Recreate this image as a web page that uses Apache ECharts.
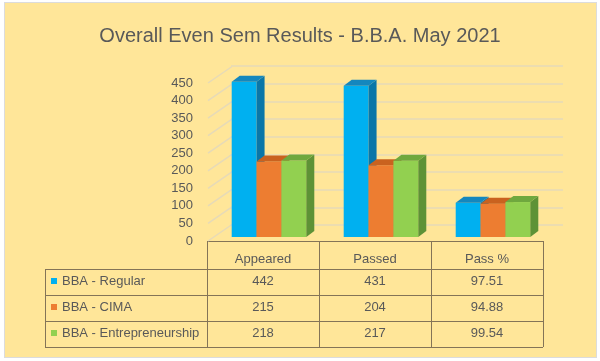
<!DOCTYPE html>
<html><head><meta charset="utf-8">
<script src="https://cdn.jsdelivr.net/npm/echarts@6/dist/echarts.min.js"></script>
<style>
html,body{margin:0;padding:0;background:#fff;}
#wrap{position:relative;width:600px;height:361px;}
#bg{position:absolute;left:4px;top:2px;width:591px;height:354px;background:#FFE699;border:1px solid #dcdcdc;}
#c{position:absolute;left:0;top:0;width:600px;height:361px;}
</style>
</head><body>
<div id="wrap"><div id="bg"></div><div id="c"></div></div>
<script>
const categories = ['Appeared', 'Passed', 'Pass %'];
const seriesNames = ['BBA - Regular', 'BBA - CIMA', 'BBA - Entrepreneurship'];
const regular = [442, 431, 97.51];
const cima = [215, 204, 94.88];
const entrepreneurship = [218, 217, 99.54];
const yTicks = [0, 50, 100, 150, 200, 250, 300, 350, 400, 450];

const allValues = [regular, cima, entrepreneurship];
const faceColors = [
  {front: '#00B0F0', side: '#0A76A8', top: '#1487BE'},
  {front: '#ED7D31', side: '#B65A1F', top: '#C9621F'},
  {front: '#92D050', side: '#5E9236', top: '#6FA83E'}
];
const textColor = '#595959';
const lineColor = '#847457';
const SHIFT_X = 6, SHIFT_Y = -4, DEPTH_X = 8, DEPTH_Y = -6;

const chart = echarts.init(document.getElementById('c'), null, {renderer: 'canvas'});

function barRender(si) {
  return function (params, api) {
    const c = api.value(0), v = api.value(1);
    const topP = api.coord([c, v]);
    const baseP = api.coord([c, 0]);
    const band = api.size([1, 0])[0];
    const w = band * 0.222;
    const x = topP[0] - 1.5 * w + si * w + SHIFT_X;
    const yT = topP[1] + SHIFT_Y;
    const yB = baseP[1] + SHIFT_Y;
    const col = faceColors[si];
    return {
      type: 'group',
      children: [
        {type: 'rect', shape: {x: x, y: yT, width: w, height: yB - yT}, style: {fill: col.front}},
        {type: 'polygon', shape: {points: [[x + w, yT], [x + w + DEPTH_X, yT + DEPTH_Y], [x + w + DEPTH_X, yB + DEPTH_Y], [x + w, yB]]}, style: {fill: col.side}},
        {type: 'polygon', shape: {points: [[x, yT], [x + DEPTH_X, yT + DEPTH_Y], [x + w + DEPTH_X, yT + DEPTH_Y], [x + w, yT]]}, style: {fill: col.top}}
      ]
    };
  };
}

function diagRender(params, api) {
  const v = api.value(1);
  const p = api.coord([0, v]);
  const band = api.size([1, 0])[0];
  const x0 = p[0] - band / 2 + 1;
  return {
    type: 'line',
    shape: {x1: x0, y1: p[1], x2: x0 + 24, y2: p[1] - 16.5},
    style: {stroke: '#E6DAB8', lineWidth: 1.5}
  };
}

const series = [{
  type: 'custom',
  xAxisIndex: 0, yAxisIndex: 0,
  renderItem: diagRender,
  data: yTicks.map(v => [0, v]),
  z: 1, silent: true
}];
allValues.forEach((vals, si) => {
  series.push({
    type: 'custom',
    name: seriesNames[si],
    xAxisIndex: 0, yAxisIndex: 0,
    renderItem: barRender(si),
    data: vals.map((v, i) => [i, v]),
    z: 3 + si, silent: true
  });
});

chart.setOption({
  backgroundColor: 'transparent',
  animation: false,
  title: {
    text: 'Overall Even Sem Results - B.B.A. May 2021',
    left: 'center', top: 21,
    textStyle: {fontFamily: 'Liberation Sans', fontSize: 20, fontWeight: 'normal', color: textColor}
  },
  grid: [
    {left: 207, right: 57, top: 83, bottom: 120},
    {left: 231, right: 37, top: 66, bottom: 136}
  ],
  xAxis: [
    {type: 'category', gridIndex: 0, data: categories, axisLine: {show: false}, axisTick: {show: false}, axisLabel: {show: false}},
    {type: 'category', gridIndex: 1, data: categories, show: false}
  ],
  yAxis: [
    {type: 'value', gridIndex: 0, min: 0, max: 450, interval: 50, splitLine: {show: false},
     axisLine: {show: false}, axisTick: {show: false},
     axisLabel: {margin: 14, color: textColor, fontSize: 13, fontFamily: 'Liberation Sans'}},
    {type: 'value', gridIndex: 1, min: 0, max: 450, interval: 50,
     axisLine: {show: false}, axisTick: {show: false}, axisLabel: {show: false},
     splitLine: {show: true, lineStyle: {color: '#E6DAB8', width: 1.5}}}
  ],
  series: series
});

// data table built from the same arrays, aligned to the category bands
const centers = categories.map((c, i) => chart.convertToPixel({xAxisIndex: 0}, i));
const band = centers.length > 1 ? centers[1] - centers[0] : 112;
const edges = centers.map(c => c - band / 2).concat([centers[centers.length - 1] + band / 2]);
const legendLeft = 45;
const headerTop = 241, headerH = 28, rowH = 26;
const rowTops = seriesNames.map((n, i) => headerTop + headerH + i * rowH);
const tableBottom = headerTop + headerH + seriesNames.length * rowH;
const els = [];
const ls = {stroke: lineColor, lineWidth: 1};
const L = (x1, y1, x2, y2) => els.push({type: 'line', shape: {x1, y1, x2, y2}, style: ls, silent: true});
L(edges[0], headerTop + 0.5, edges[edges.length - 1], headerTop + 0.5);
rowTops.forEach(y => L(legendLeft, y + 0.5, edges[edges.length - 1], y + 0.5));
L(legendLeft, tableBottom + 0.5, edges[edges.length - 1], tableBottom + 0.5);
L(legendLeft + 0.5, rowTops[0], legendLeft + 0.5, tableBottom);
edges.forEach(x => L(Math.round(x) + 0.5, headerTop, Math.round(x) + 0.5, tableBottom));
const ts = (extra) => Object.assign({fill: textColor, fontSize: 13, fontFamily: 'Liberation Sans', verticalAlign: 'middle'}, extra);
categories.forEach((c, i) => els.push({type: 'text', x: centers[i], y: headerTop + headerH / 2 + 4, style: ts({text: c, align: 'center'}), silent: true}));
seriesNames.forEach((n, si) => {
  const yc = rowTops[si] + rowH / 2 - 1;
  els.push({type: 'rect', shape: {x: legendLeft + 6, y: yc - 3, width: 6, height: 6}, style: {fill: faceColors[si].front}, silent: true});
  els.push({type: 'text', x: legendLeft + 17, y: yc, style: ts({text: n, align: 'left'}), silent: true});
  allValues[si].forEach((v, ci) => {
    els.push({type: 'text', x: centers[ci], y: yc, style: ts({text: String(v), align: 'center'}), silent: true});
  });
});
chart.setOption({graphic: {elements: els}});
</script>
</body></html>
